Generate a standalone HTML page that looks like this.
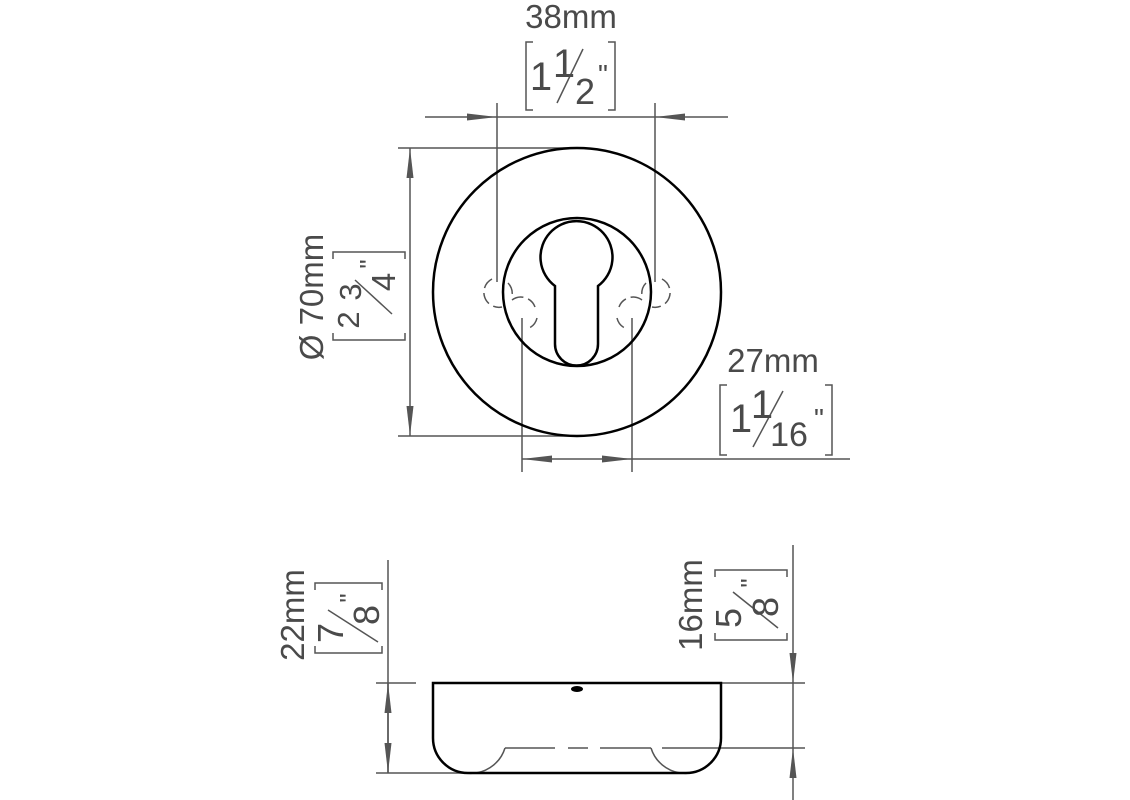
<!DOCTYPE html>
<html><head><meta charset="utf-8"><style>
html,body{margin:0;padding:0;background:#fff;}
svg{display:block;}
text{font-family:"Liberation Sans",Arial,sans-serif;fill:#4a4a4a;}
</style></head><body>
<svg width="1130" height="800" viewBox="0 0 1130 800" xmlns="http://www.w3.org/2000/svg">
<defs>
<marker id="a" viewBox="0 0 30 10" refX="30" refY="5" markerWidth="30" markerHeight="10" markerUnits="userSpaceOnUse" orient="auto">
<path d="M0,1.5 L30,5 L0,8.5 Z" fill="#555"/>
</marker>
</defs>
<g stroke="#555" stroke-width="1.5" fill="none">
<line x1="497" y1="103" x2="497" y2="282"/>
<line x1="655" y1="103" x2="655" y2="282"/>
<line x1="425" y1="117" x2="497" y2="117" marker-end="url(#a)"/>
<line x1="497" y1="117" x2="655" y2="117"/>
<line x1="728" y1="117" x2="655" y2="117" marker-end="url(#a)"/>
<line x1="398" y1="148" x2="577" y2="148"/>
<line x1="398" y1="436" x2="577" y2="436"/>
<line x1="410" y1="292" x2="410" y2="148" marker-end="url(#a)"/>
<line x1="410" y1="292" x2="410" y2="436" marker-end="url(#a)"/>
<line x1="522" y1="318" x2="522" y2="472"/>
<line x1="632" y1="318" x2="632" y2="472"/>
<line x1="577" y1="459" x2="522" y2="459" marker-end="url(#a)"/>
<line x1="577" y1="459" x2="632" y2="459" marker-end="url(#a)"/>
<line x1="632" y1="459" x2="850" y2="459"/>
<g stroke-dasharray="12 5">
<path d="M492,279 A15,15 0 0 0 502,307"/>
<path d="M508,283 A15,15 0 0 1 512,296"/>
<path d="M512,300 A15,15 0 0 1 535,307"/>
<path d="M537,318 A15,15 0 0 1 527,329"/>
<path d="M662,279 A15,15 0 0 1 652,307"/>
<path d="M646,283 A15,15 0 0 0 642,296"/>
<path d="M642,300 A15,15 0 0 0 619,307"/>
<path d="M617,318 A15,15 0 0 0 627,329"/>
</g>
<line x1="388" y1="560" x2="388" y2="773"/>
<line x1="376" y1="683" x2="416" y2="683"/>
<line x1="376" y1="773" x2="470" y2="773"/>
<line x1="388" y1="728" x2="388" y2="683" marker-end="url(#a)"/>
<line x1="388" y1="728" x2="388" y2="773" marker-end="url(#a)"/>
<line x1="793" y1="545" x2="793" y2="683" marker-end="url(#a)"/>
<line x1="793" y1="683" x2="793" y2="748"/>
<line x1="793" y1="800" x2="793" y2="748" marker-end="url(#a)"/>
<line x1="721" y1="683" x2="805" y2="683"/>
<line x1="662" y1="748" x2="805" y2="748"/>
<path d="M505,748 H555 M568,748 H588 M600,748 H651"/>
<path d="M466,773 A36,36 0 0 0 505,748"/>
<path d="M651,748 A36,36 0 0 0 690,773"/>
<path d="M533,42 H526 V110 H533 M608,42 H615 V110 H608"/>
<path d="M727,385 H720 V455 H727 M825,385 H832 V455 H825"/>
<path d="M333,259 V252 H405 V259 M333,333 V340 H405 V333"/>
<path d="M315,590 V583 H382 V590 M315,646 V653 H382 V646"/>
<path d="M715,577 V570 H787 V577 M715,633 V640 H787 V633"/>
<line x1="557" y1="103" x2="583" y2="49"/>
<line x1="753" y1="447" x2="783" y2="391"/>
<line x1="355" y1="280" x2="392" y2="314"/>
<line x1="328" y1="610" x2="378" y2="642"/>
<line x1="733" y1="592" x2="778" y2="628"/>
</g>
<g stroke="#000" stroke-width="2.5" fill="none">
<circle cx="577" cy="292" r="144"/>
<circle cx="577" cy="292" r="74"/>
<path d="M555,286 A36,36 0 1 1 598,286 L598,344 A21.5,21.5 0 0 1 555,344 Z"/>
<path d="M433,683 H721 V738 A35,35 0 0 1 686,773 H468 A35,35 0 0 1 433,738 Z"/>
</g>
<ellipse cx="577" cy="689" rx="6" ry="3" fill="#000"/>
<text x="571" y="28" font-size="33" text-anchor="middle">38mm</text>
<text x="541" y="90" font-size="40" text-anchor="middle">1</text>
<text x="564" y="77" font-size="40" text-anchor="middle">1</text>
<text x="585" y="104" font-size="36" text-anchor="middle">2</text>
<text x="603" y="84" font-size="28" text-anchor="middle">"</text>

<text x="773" y="372" font-size="33" text-anchor="middle">27mm</text>
<text x="741" y="432" font-size="40" text-anchor="middle">1</text>
<text x="762" y="418" font-size="40" text-anchor="middle">1</text>
<text x="789" y="446" font-size="34" text-anchor="middle">16</text>
<text x="819" y="428" font-size="28" text-anchor="middle">"</text>

<g font-size="33" text-anchor="middle">
<text transform="translate(311,297) rotate(-90)" dy="12">Ø 70mm</text>
<text transform="translate(292,615) rotate(-90)" dy="12">22mm</text>
<text transform="translate(690,605) rotate(-90)" dy="12">16mm</text>
</g>
<g text-anchor="middle">
<text transform="translate(348,320) rotate(-90)" dy="11" font-size="31">2</text>
<text transform="translate(350,292) rotate(-90)" dy="11" font-size="31">3</text>
<text transform="translate(383,282) rotate(-90)" dy="12" font-size="33">4</text>
<text transform="translate(330,633) rotate(-90)" dy="13" font-size="36">7</text>
<text transform="translate(366,615) rotate(-90)" dy="13" font-size="36">8</text>
<text transform="translate(728,618) rotate(-90)" dy="13" font-size="36">5</text>
<text transform="translate(765,607) rotate(-90)" dy="13" font-size="36">8</text>
</g>
<g font-size="26" text-anchor="middle">
<text transform="translate(360,264) rotate(-90)" dy="18">"</text>
<text transform="translate(340,598) rotate(-90)" dy="18">"</text>
<text transform="translate(741,583) rotate(-90)" dy="18">"</text>
</g>
</svg>
</body></html>
